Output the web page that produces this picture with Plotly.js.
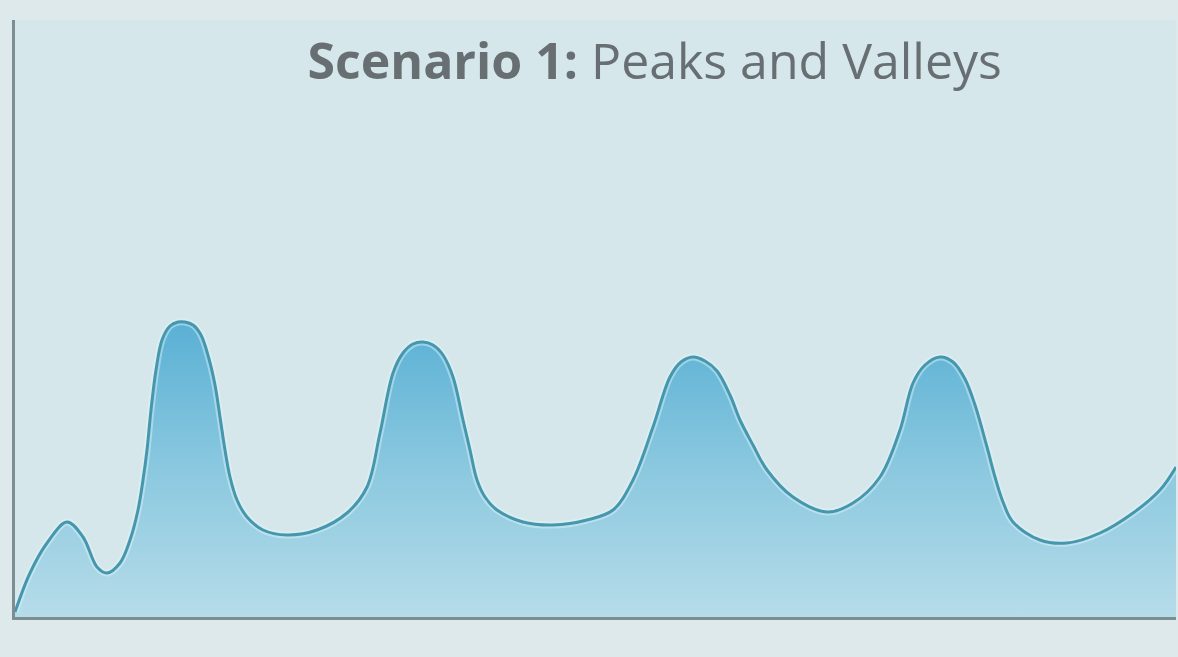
<!DOCTYPE html>
<html>
<head>
<meta charset="utf-8">
<script src="https://cdn.plot.ly/plotly-3.0.1.min.js"></script>
<style>html,body{margin:0;padding:0;background:#dde9eb;}#chart{width:1178px;height:657px;}</style>
</head>
<body>
<div id="chart"></div>
<script>
// Time positions and activity levels
const timePoints = [0, 15, 32, 52, 68, 82, 92, 105, 115, 123, 128, 132, 136, 141, 147, 155, 163, 170, 178, 186, 194, 200, 205, 210, 215, 222, 232, 248, 272, 302, 332, 352, 365, 378, 388, 398, 408, 418, 428, 438, 448, 455, 462, 470, 482, 508, 538, 572, 598, 618, 638, 655, 666, 678, 690, 702, 715, 725, 738, 752, 778, 812, 838, 865, 885, 898, 910, 925, 938, 950, 960, 972, 980, 988, 998, 1025, 1052, 1085, 1118, 1145, 1161];
const activity   = [5, 44, 74, 95, 80, 50, 44, 54, 77, 107, 137, 167, 207, 247, 277, 291, 295, 295, 292, 282, 258, 232, 200, 167, 140, 117, 100, 87, 82, 87, 104, 130, 184, 244, 264, 273, 275, 272, 262, 240, 197, 167, 137, 120, 107, 95, 92, 97, 107, 137, 190, 240, 255, 260, 256, 246, 222, 197, 172, 147, 120, 105, 114, 140, 187, 234, 252, 260, 255, 238, 212, 170, 140, 115, 95, 77, 74, 84, 104, 127, 150];
const titleBold = "Scenario 1:";
const titleRest = "Peaks and Valleys";

const traces = [
  {
    x: timePoints, y: activity, type: 'scatter', mode: 'lines',
    line: {shape: 'spline', smoothing: 1, width: 0, color: 'rgba(0,0,0,0)'},
    fill: 'tozeroy',
    fillgradient: {type: 'vertical', start: 0, stop: 300,
      colorscale: [[0, '#b6dce9'], [0.5, '#8ac8df'], [1, '#58afd4']]},
    hoverinfo: 'skip', showlegend: false
  },
  {
    x: timePoints, y: activity, type: 'scatter', mode: 'lines',
    line: {shape: 'spline', smoothing: 1, width: 7, color: 'rgba(225,246,250,0.45)'},
    hoverinfo: 'skip', showlegend: false
  },
  {
    x: timePoints, y: activity, type: 'scatter', mode: 'lines',
    line: {shape: 'spline', smoothing: 1, width: 3, color: '#4697ad'},
    showlegend: false
  }
];

const layout = {
  width: 1178, height: 657,
  margin: {l: 15, r: 2, t: 20, b: 40},
  paper_bgcolor: '#dde9eb',
  plot_bgcolor: '#d6e7eb',
  title: {
    text: '<b>' + titleBold + '</b> ' + titleRest,
    font: {family: 'Open Sans, sans-serif', size: 50, color: '#676f72'},
    x: 0.551, xref: 'paper', xanchor: 'center',
    y: 0.907, yref: 'container', yanchor: 'middle'
  },
  xaxis: {
    range: [0, 1161], showgrid: false, zeroline: false, showticklabels: false, ticks: '',
    showline: true, linecolor: '#7d8e92', linewidth: 3, fixedrange: true
  },
  yaxis: {
    range: [0, 597], showgrid: false, zeroline: false, showticklabels: false, ticks: '',
    showline: true, linecolor: '#7d8e92', linewidth: 3, fixedrange: true
  },
  showlegend: false
};

Plotly.newPlot('chart', traces, layout, {displayModeBar: false, staticPlot: true});
</script>
</body>
</html>
